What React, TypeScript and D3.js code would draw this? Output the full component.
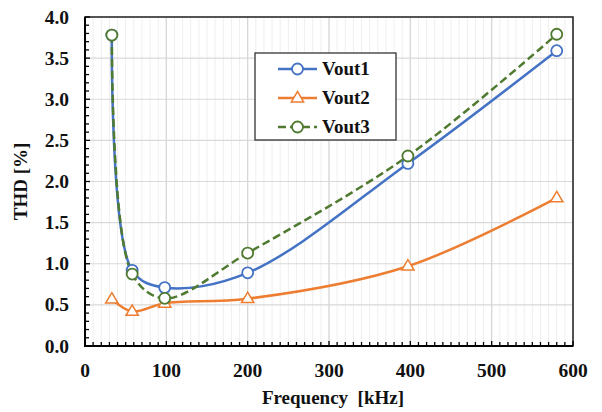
import React from "react";
import * as d3 from "d3";

const freq = [33, 58, 98, 200, 397, 580];
const vout1 = [3.78, 0.92, 0.71, 0.89, 2.22, 3.59];
const vout2 = [0.57, 0.42, 0.52, 0.575, 0.97, 1.8];
const vout3 = [3.78, 0.875, 0.58, 1.13, 2.31, 3.79];
const seriesNames = ["Vout1", "Vout2", "Vout3"];
const xTicks = [0, 100, 200, 300, 400, 500, 600];
const yTicks = [0, 0.5, 1, 1.5, 2, 2.5, 3, 3.5, 4];

const W = 602;
const H = 412;
const M = { left: 85, right: 29, top: 17, bottom: 66 };
const FONT = "'Liberation Serif', 'DejaVu Serif', serif";

const colors = ["#4472C4", "#ED7D31", "#4F7A30"];

const textStyle: React.CSSProperties = {
  fontFamily: FONT,
  fontWeight: "bold",
  fontSize: 18,
  fill: "#111",
};

export default function App() {
  const x = d3.scaleLinear().domain([0, 600]).range([M.left, W - M.right]);
  const y = d3.scaleLinear().domain([0, 4]).range([H - M.bottom, M.top]);

  const line = d3
    .line<number>()
    .x((_, i) => x(freq[i]))
    .y((d) => y(d))
    .curve(d3.curveCatmullRom.alpha(0.5));

  const xMinor = d3.range(0, 601, 10);
  const yMinor = d3.range(0, 4.0001, 0.1);
  const series = [vout1, vout2, vout3];

  const x0 = x(0);
  const x1 = x(600);
  const y0 = y(0);
  const y1 = y(4);

  const marker = (k: number, cx: number, cy: number, key: string) => {
    if (k === 1) {
      const r = 6.5;
      const pts = [
        [cx, cy - r],
        [cx + r * 0.95, cy + r * 0.6],
        [cx - r * 0.95, cy + r * 0.6],
      ]
        .map((p) => p.join(","))
        .join(" ");
      return (
        <polygon key={key} points={pts} fill="white" stroke={colors[k]} strokeWidth={1.5} />
      );
    }
    return (
      <circle key={key} cx={cx} cy={cy} r={5.5} fill="white" stroke={colors[k]} strokeWidth={1.8} />
    );
  };

  return (
    <svg width={W} height={H} style={{ display: "block", position: "absolute", left: 0, top: 0 }}>
      <rect width={W} height={H} fill="white" />
      {/* minor vertical gridlines */}
      {xMinor.map((v) => (
        <line key={"gm" + v} x1={x(v)} x2={x(v)} y1={y1} y2={y0} stroke="#efefef" strokeWidth={1} />
      ))}
      {/* major gridlines */}
      {xTicks.map((v) => (
        <line key={"gx" + v} x1={x(v)} x2={x(v)} y1={y1} y2={y0} stroke="#d6d6d6" strokeWidth={1.2} />
      ))}
      {yTicks.map((v) => (
        <line key={"gy" + v} x1={x0} x2={x1} y1={y(v)} y2={y(v)} stroke="#d9d9d9" strokeWidth={1.2} />
      ))}

      {/* series lines */}
      {series.map((s, k) => (
        <path
          key={"l" + k}
          d={line(s) ?? ""}
          fill="none"
          stroke={colors[k]}
          strokeWidth={2.5}
          strokeDasharray={k === 2 ? "8,4" : undefined}
        />
      ))}
      {series.map((s, k) => s.map((v, i) => marker(k, x(freq[i]), y(v), `m${k}-${i}`)))}

      {/* plot frame */}
      <rect x={x0} y={y1} width={x1 - x0} height={y0 - y1} fill="none" stroke="#222" strokeWidth={1.5} />
      <line x1={x0} x2={x0} y1={y1} y2={y0 + 1} stroke="#000" strokeWidth={2} />
      <line x1={x0 - 1} x2={x1} y1={y0} y2={y0} stroke="#000" strokeWidth={2} />

      {/* inward ticks */}
      {xMinor.map((v) => (
        <line key={"tx" + v} x1={x(v)} x2={x(v)} y1={y0} y2={y0 - (v % 100 === 0 ? 5 : 4)} stroke="#000" strokeWidth={1.3} />
      ))}
      {yMinor.map((v, i) => (
        <line key={"ty" + i} x1={x0} x2={x0 + (i % 5 === 0 ? 5 : 4)} y1={y(v)} y2={y(v)} stroke="#000" strokeWidth={1.3} />
      ))}

      {/* tick labels */}
      {xTicks.map((v) => (
        <text key={"lx" + v} x={x(v)} y={377} textAnchor="middle" style={{ ...textStyle, fontSize: 19.5 }}>
          {v}
        </text>
      ))}
      {yTicks.map((v) => (
        <text key={"ly" + v} x={69} y={y(v) + 6.5} textAnchor="end" style={{ ...textStyle, fontSize: 19.5 }}>
          {v.toFixed(1)}
        </text>
      ))}

      {/* axis titles */}
      <text x={333} y={404} textAnchor="middle" style={{ ...textStyle, fontSize: 19, whiteSpace: "pre" }}>
        {"Frequency  [kHz]"}
      </text>
      <text
        transform={`translate(27, ${(y0 + y1) / 2}) rotate(-90)`}
        textAnchor="middle"
        style={{ ...textStyle, fontSize: 19 }}
      >
        THD [%]
      </text>

      {/* legend */}
      <rect x={255} y={53} width={141} height={87} fill="white" stroke="#333" strokeWidth={1.3} />
      {seriesNames.map((name, k) => {
        const ly = 69 + k * 29;
        return (
          <g key={"lg" + k}>
            <line
              x1={278}
              x2={317}
              y1={ly}
              y2={ly}
              stroke={colors[k]}
              strokeWidth={2.5}
              strokeDasharray={k === 2 ? "8,4" : undefined}
            />
            {marker(k, 297.5, ly, "lm" + k)}
            <text x={322} y={ly + 6} style={{ ...textStyle, fontSize: 19 }}>
              {name}
            </text>
          </g>
        );
      })}
    </svg>
  );
}
